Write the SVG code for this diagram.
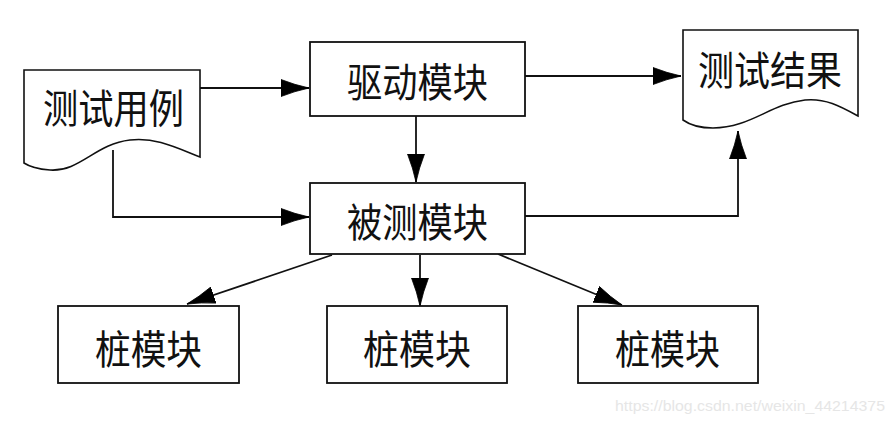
<svg xmlns="http://www.w3.org/2000/svg" width="896" height="424" viewBox="0 0 896 424">
<style>
.box{fill:#fff;stroke:#111;stroke-width:1.8}
.doc{fill:#fff;stroke:#111;stroke-width:1.6}
.lbl{font-family:"Noto Sans CJK SC","Noto Sans",sans-serif;font-size:40px;fill:#111;font-weight:400}
.conn{fill:none;stroke:#111;stroke-width:1.8}
.wm{font-family:"Liberation Sans",Arial,sans-serif;font-size:15px;fill:#e6e6e6}
</style>
<defs>
<marker id="ah" markerUnits="userSpaceOnUse" viewBox="0 0 28 18" refX="28" refY="9" markerWidth="28" markerHeight="18" orient="auto">
<path d="M0,0.5 Q14,6 28,9 Q14,12 0,17.5 Z" fill="#000" stroke="#000" stroke-width="0.8"/>
</marker>
</defs>
<rect width="896" height="424" fill="#fff"/>
<g id="connectors">
<path class="conn" d="M200,88 H309" marker-end="url(#ah)"/>
<path class="conn" d="M525,76 H681" marker-end="url(#ah)"/>
<path class="conn" d="M416,116 V182" marker-end="url(#ah)"/>
<path class="conn" d="M113,150 V217 H309" marker-end="url(#ah)"/>
<path class="conn" d="M525,216 H738 V131" marker-end="url(#ah)"/>
<path class="conn" d="M332,255 L187,304" marker-end="url(#ah)"/>
<path class="conn" d="M420,255 V306" marker-end="url(#ah)"/>
<path class="conn" d="M498,254 L622,305" marker-end="url(#ah)"/>
</g>
<g id="test-cases">
<path class="doc" d="M24,70 H200 V157 C175,147 155,137 130,140 C95,144 80,172 50,170 C38,169 30,167 24,163 Z"/>
<text class="lbl" x="43" y="123" textLength="141" lengthAdjust="spacingAndGlyphs">测试用例</text>
</g>
<g id="driver">
<rect class="box" x="310" y="42" width="215" height="74"/>
<text class="lbl" x="347" y="97" textLength="141" lengthAdjust="spacingAndGlyphs">驱动模块</text>
</g>
<g id="test-result">
<path class="doc" d="M683,30 H858 V116 C840,106 825,98 805,100 C770,104 750,128 713,128 C700,128 690,125 683,120 Z"/>
<text class="lbl" x="698" y="85" textLength="144" lengthAdjust="spacingAndGlyphs">测试结果</text>
</g>
<g id="under-test">
<rect class="box" x="310" y="183" width="215" height="71"/>
<text class="lbl" x="347" y="237" textLength="141" lengthAdjust="spacingAndGlyphs">被测模块</text>
</g>
<g id="stub1">
<rect class="box" x="58" y="306" width="181" height="77"/>
<text class="lbl" x="95" y="364" textLength="107" lengthAdjust="spacingAndGlyphs">桩模块</text>
</g>
<g id="stub2">
<rect class="box" x="327" y="306" width="180" height="77"/>
<text class="lbl" x="363" y="364" textLength="108" lengthAdjust="spacingAndGlyphs">桩模块</text>
</g>
<g id="stub3">
<rect class="box" x="578" y="306" width="180" height="77"/>
<text class="lbl" x="615" y="364" textLength="105" lengthAdjust="spacingAndGlyphs">桩模块</text>
</g>
<text class="wm" x="615" y="411" textLength="270" lengthAdjust="spacingAndGlyphs">https://blog.csdn.net/weixin_44214375</text>
</svg>
